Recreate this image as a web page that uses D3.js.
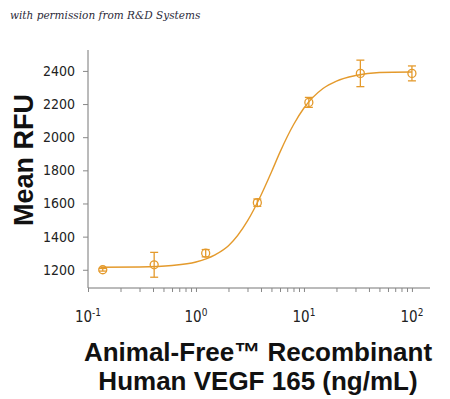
<!DOCTYPE html>
<html>
<head>
<meta charset="utf-8">
<script src="https://cdn.jsdelivr.net/npm/d3@7"></script>
<style>
  body { margin: 0; background: #fff; }
  svg { display: block; }
</style>
</head>
<body>
<svg id="chart" width="450" height="399"></svg>
<script>
// measured points (ng/mL, mean RFU, error)
const conc = [0.137, 0.41, 1.23, 3.7, 11.1, 33.3, 100];
const rfu = [1200, 1230, 1300, 1605, 2210, 2385, 2385];
const err = [8, 75, 22, 22, 30, 80, 45];

// fitted curve
const fitConc = [0.13, 0.3, 0.6, 1, 1.5, 2, 3, 4, 5, 6, 8, 10, 15, 20, 30, 50, 100];
const fitRfu = [1215, 1217, 1226, 1247, 1290, 1345, 1495, 1650, 1790, 1910, 2075, 2176, 2294, 2339, 2372, 2390, 2393];

const yTicks = [1200, 1400, 1600, 1800, 2000, 2200, 2400];
const xMajor = [0.1, 1, 10, 100];
const xExp = ["-1", "0", "1", "2"];

const orange = "#e49a2c";
const tickFont = "Liberation Sans Narrow, DejaVu Sans Condensed, Liberation Sans, sans-serif";
const svg = d3.select("#chart");

let x = d3.scaleLog().domain([0.1, 147]).range([88, 430]);
let y = d3.scaleLinear().domain([1090, 2496]).range([288, 55]);

// watermark
svg.append("text")
  .attr("x", 10).attr("y", 19)
  .attr("font-family", "DejaVu Serif")
  .attr("font-style", "italic")
  .attr("font-size", "10.5px")
  .attr("fill", "#2b2b3a")
  .text("with permission from R&D Systems");

// minor + major ticks for the log axis
let xTickVals = [];
for (let e = -1; e <= 2; e++) {
  for (let m = 1; m <= 9; m++) {
    let v = m * Math.pow(10, e);
    if (v <= 147) xTickVals.push(v);
  }
}

let xAxis = d3.axisBottom(x)
  .tickValues(xTickVals)
  .tickSize(4)
  .tickFormat("");

let yAxis = d3.axisLeft(y)
  .tickValues(yTicks)
  .tickSize(5)
  .tickPadding(8)
  .tickFormat(d3.format("d"));

let gx = svg.append("g")
  .attr("transform", "translate(0,288)")
  .call(xAxis);
gx.select(".domain").attr("stroke", "#777").attr("d", "M88,0H430");
gx.selectAll(".tick line").attr("stroke", "#888");

let gy = svg.append("g")
  .attr("transform", "translate(88,0)")
  .call(yAxis);
gy.select(".domain").attr("stroke", "#777").attr("d", "M0,50V288");
gy.selectAll(".tick line").attr("stroke", "#888");
gy.selectAll(".tick text")
  .attr("font-family", tickFont)
  .attr("font-size", "14px")
  .attr("fill", "#222");

// x labels with superscripts
let xl = svg.append("g")
  .selectAll("text")
  .data(xMajor)
  .enter()
  .append("text")
  .attr("x", function(d) { return x(d); })
  .attr("y", 322)
  .attr("text-anchor", "middle")
  .attr("font-family", tickFont)
  .attr("font-size", "15px")
  .attr("fill", "#222");
xl.append("tspan").text("10");
xl.append("tspan")
  .attr("dy", -6)
  .attr("font-size", "10px")
  .text(function(d, i) { return xExp[i]; });

// fitted curve
let line = d3.line()
  .x(function(d, i) { return x(fitConc[i]); })
  .y(function(d) { return y(d); })
  .curve(d3.curveMonotoneX);

svg.append("path")
  .datum(fitRfu)
  .attr("d", line)
  .attr("fill", "none")
  .attr("stroke", orange)
  .attr("stroke-width", 1.4);

// error bars
let pts = svg.append("g")
  .selectAll("g")
  .data(rfu)
  .enter()
  .append("g");

pts.append("line")
  .attr("x1", function(d, i) { return x(conc[i]); })
  .attr("x2", function(d, i) { return x(conc[i]); })
  .attr("y1", function(d, i) { return y(d - err[i]); })
  .attr("y2", function(d, i) { return y(d + err[i]); })
  .attr("stroke", orange).attr("stroke-width", 1.3);

[-1, 1].forEach(function(s) {
  pts.append("line")
    .attr("x1", function(d, i) { return x(conc[i]) - 4; })
    .attr("x2", function(d, i) { return x(conc[i]) + 4; })
    .attr("y1", function(d, i) { return y(d + s * err[i]); })
    .attr("y2", function(d, i) { return y(d + s * err[i]); })
    .attr("stroke", orange).attr("stroke-width", 1.3);
});

pts.append("circle")
  .attr("cx", function(d, i) { return x(conc[i]); })
  .attr("cy", function(d) { return y(d); })
  .attr("r", 4)
  .attr("fill", "none")
  .attr("stroke", orange)
  .attr("stroke-width", 1.3);

// axis titles
svg.append("text")
  .attr("transform", "translate(33,160) rotate(-90)")
  .attr("text-anchor", "middle")
  .attr("font-family", "Liberation Sans, Arial, sans-serif")
  .attr("font-weight", "bold")
  .attr("font-size", "27px")
  .attr("fill", "#111")
  .text("Mean RFU");

let title = svg.append("text")
  .attr("text-anchor", "middle")
  .attr("font-family", "Liberation Sans, Arial, sans-serif")
  .attr("font-weight", "bold")
  .attr("font-size", "26px")
  .attr("fill", "#111");
title.append("tspan").attr("x", 258).attr("y", 361).text("Animal-Free™ Recombinant");
title.append("tspan").attr("x", 258).attr("y", 390).text("Human VEGF 165 (ng/mL)");
</script>
</body>
</html>
